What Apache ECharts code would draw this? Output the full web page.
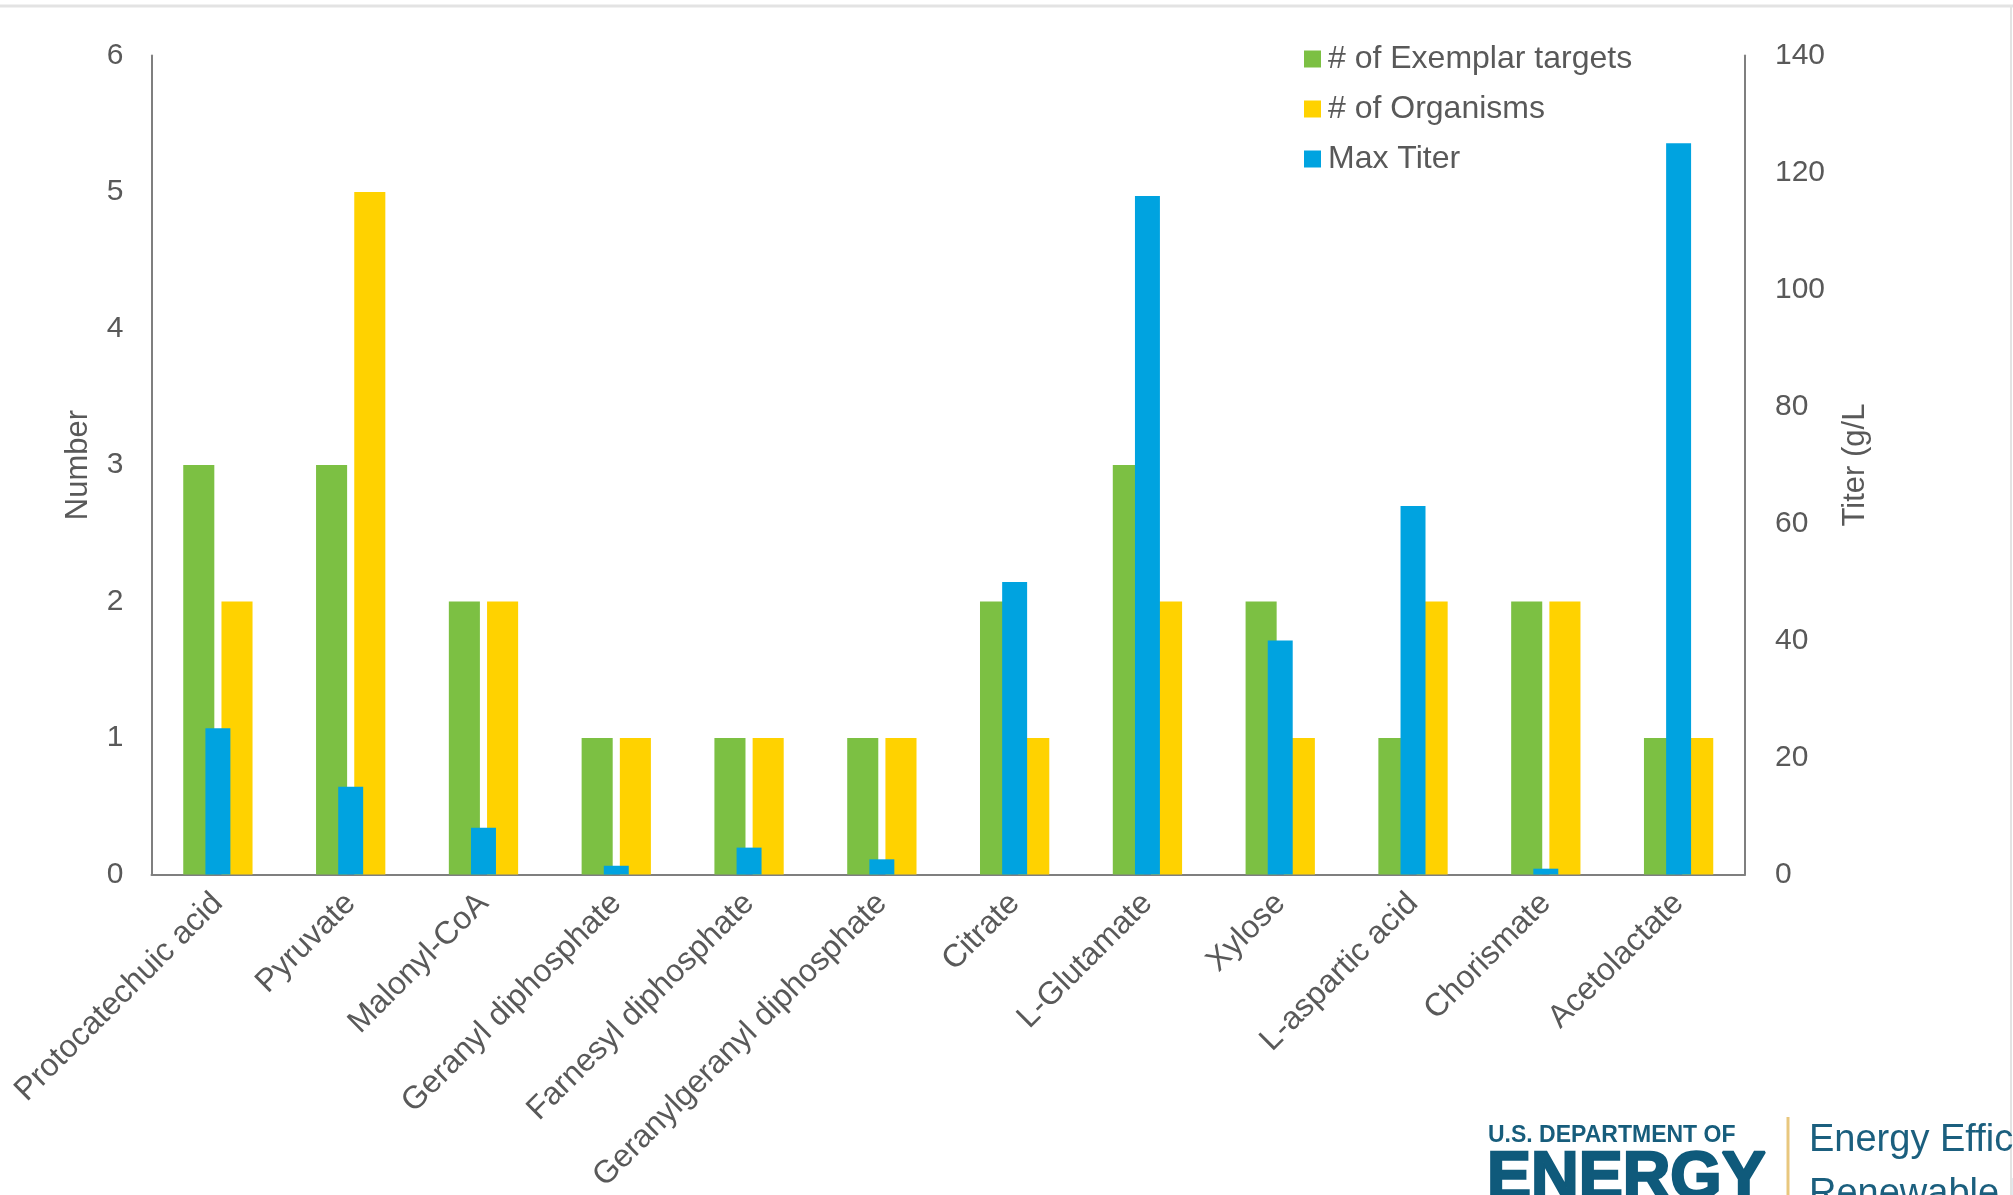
<!DOCTYPE html>
<html><head><meta charset="utf-8">
<script src="https://cdn.jsdelivr.net/npm/echarts@6/dist/echarts.min.js"></script>
<style>html,body{margin:0;padding:0;background:#fff;overflow:hidden}#c{width:2013px;height:1195px}</style>
</head><body><div id="c"></div>
<script>
const categories = ['Protocatechuic acid','Pyruvate','Malonyl-CoA','Geranyl diphosphate','Farnesyl diphosphate','Geranylgeranyl diphosphate','Citrate','L-Glutamate','Xylose','L-aspartic acid','Chorismate','Acetolactate'];
const exemplarTargets = [3,3,2,1,1,1,2,3,2,1,2,1];
const organisms = [2,5,2,1,1,1,1,2,1,2,2,1];
const maxTiter = [25,15,8,1.5,4.6,2.6,50,116,40,63,1,125];
const seriesNames = ['# of Exemplar targets','# of Organisms','Max Titer'];
const leftAxisTitle = 'Number';
const rightAxisTitle = 'Titer (g/L';

const TXT = '#595959';
const FONT = '"Liberation Sans", Arial, sans-serif';
const chart = echarts.init(document.getElementById('c'));
chart.setOption({
  animation: false,
  backgroundColor: '#fff',
  textStyle: { fontFamily: FONT, color: TXT },
  grid: { left: 151.5, right: 268, top: 55.5, bottom: 318, containLabel: false },
  legend: {
    orient: 'vertical', left: 1299, top: 38, itemGap: 18,
    itemWidth: 17, itemHeight: 17, icon: 'rect',
    textStyle: { fontSize: 32, color: TXT, fontFamily: FONT, padding: [0,0,0,2] },
    data: seriesNames
  },
  xAxis: [
    { type: 'category', data: categories,
      axisLine: { lineStyle: { color: '#7f7f7f', width: 2 } },
      axisTick: { show: false },
      axisLabel: { rotate: 45, fontSize: 32, color: TXT, margin: 24, interval: 0, fontFamily: FONT } },
    { type: 'category', data: categories, show: false }
  ],
  yAxis: [
    { type: 'value', min: 0, max: 6, interval: 1, name: leftAxisTitle,
      nameLocation: 'middle', nameRotate: 90, nameGap: 58,
      nameTextStyle: { fontSize: 31, color: TXT, fontFamily: FONT },
      axisLine: { show: true, lineStyle: { color: '#7f7f7f', width: 2 } },
      axisTick: { show: false }, splitLine: { show: false },
      axisLabel: { fontSize: 30, color: TXT, margin: 28, fontFamily: FONT } },
    { type: 'value', min: 0, max: 140, interval: 20, name: rightAxisTitle, position: 'right',
      nameLocation: 'middle', nameRotate: 90, nameGap: 95,
      nameTextStyle: { fontSize: 31, color: TXT, fontFamily: FONT },
      axisLine: { show: true, lineStyle: { color: '#7f7f7f', width: 2 } },
      axisTick: { show: false }, splitLine: { show: false },
      axisLabel: { fontSize: 30, color: TXT, margin: 30, fontFamily: FONT } }
  ],
  series: [
    { name: seriesNames[0], type: 'bar', data: exemplarTargets, xAxisIndex: 0, yAxisIndex: 0,
      barWidth: '23.4%', barGap: '23%', itemStyle: { color: '#7CC043' } },
    { name: seriesNames[1], type: 'bar', data: organisms, xAxisIndex: 0, yAxisIndex: 0,
      barWidth: '23.4%', barGap: '23%', itemStyle: { color: '#FFD200' } },
    { name: seriesNames[2], type: 'bar', data: maxTiter, xAxisIndex: 1, yAxisIndex: 1,
      barWidth: '18.8%', z: 5, itemStyle: { color: '#00A3E0' } }
  ],
  graphic: [
    { type: 'line', shape: { x1: 0, y1: 6, x2: 2013, y2: 6 }, style: { stroke: '#e3e3e3', lineWidth: 3 }, silent: true },
    { type: 'line', shape: { x1: 2011, y1: 6, x2: 2011, y2: 1195 }, style: { stroke: '#e3e3e3', lineWidth: 2 }, silent: true },
    { type: 'text', x: 1488, y: 1124, style: { text: 'U.S. DEPARTMENT OF', fill: '#175d7c', font: 'bold 23px "Liberation Sans", Arial, sans-serif', verticalAlign: 'top' }, silent: true },
    { type: 'text', x: 1487, y: 1147, style: { text: 'ENERGY', fill: '#0f5a7b', stroke: '#0f5a7b', lineWidth: 2.5, font: 'bold 66px "Liberation Sans", Arial, sans-serif', verticalAlign: 'top' }, silent: true },
    { type: 'line', shape: { x1: 1788, y1: 1117, x2: 1788, y2: 1195 }, style: { stroke: '#e8c77e', lineWidth: 3 }, silent: true },
    { type: 'text', x: 1809, y: 1122, style: { text: 'Energy Efficiency &', fill: '#1b5f7e', font: '38px "Liberation Sans", Arial, sans-serif', verticalAlign: 'top' }, silent: true },
    { type: 'text', x: 1809, y: 1176, style: { text: 'Renewable Energy', fill: '#1b5f7e', font: '38px "Liberation Sans", Arial, sans-serif', verticalAlign: 'top' }, silent: true }
  ]
});
</script></body></html>
